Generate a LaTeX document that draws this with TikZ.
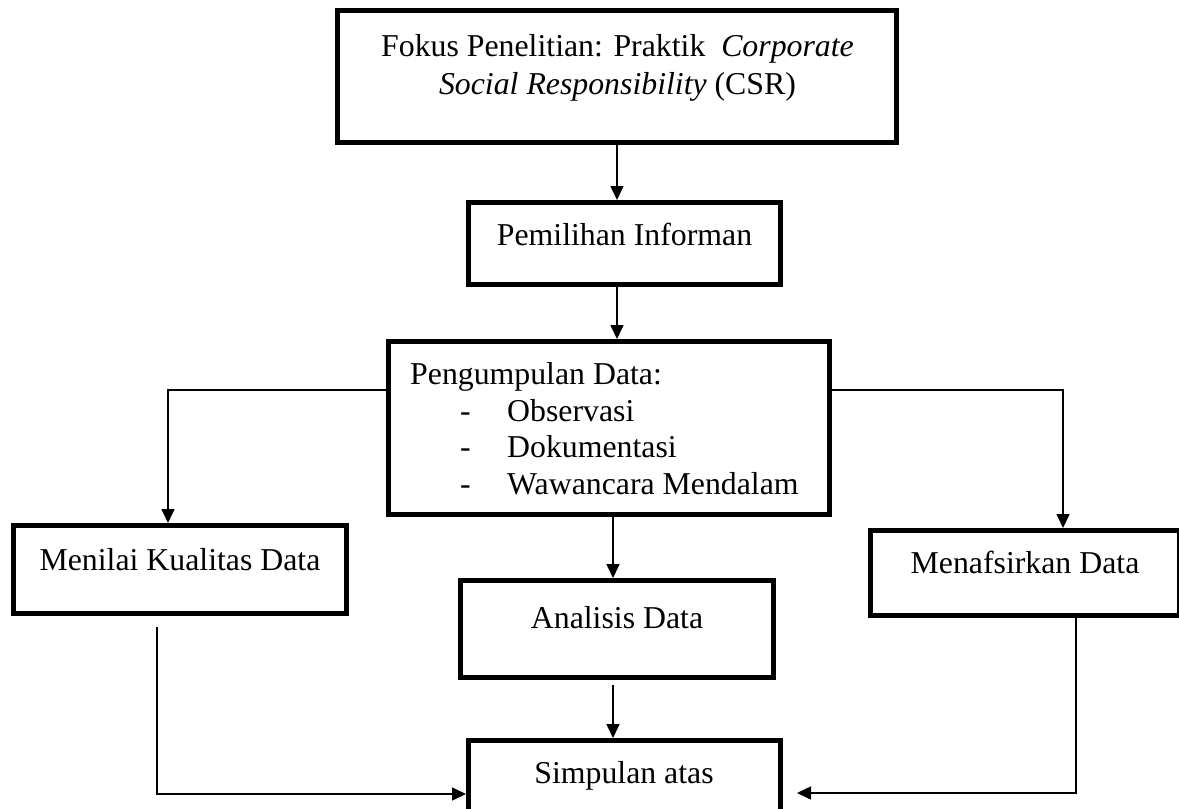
\documentclass[tikz,border=0pt]{standalone}
\usepackage{fontspec}
\setmainfont{Liberation Serif}
\usetikzlibrary{arrows.meta}
\tikzset{
  box/.style={draw, line width=5pt, rectangle, inner sep=0pt},
  txt/.style={inner sep=0pt, anchor=base, font=\fontsize{31.8pt}{36.6pt}\selectfont},
  txtl/.style={txt, anchor=base west},
  arr/.style={line width=1.6pt, -{Triangle[length=14pt,width=13pt]}},
  ln/.style={line width=1.6pt}
}
\begin{document}
\begin{tikzpicture}[x=1pt,y=1pt]
\useasboundingbox (0,0) rectangle (1179,-809);
\fill[white] (0,0) rectangle (1179,-809);
% boxes
\node[box, minimum width=559pt, minimum height=132pt] (b1) at (617,-76.5) {};
\node[box, minimum width=312pt, minimum height=82pt] (b2) at (624.5,-243.5) {};
\node[box, minimum width=441pt, minimum height=173pt] (b3) at (609,-428) {};
\node[box, minimum width=333pt, minimum height=88pt] (m) at (180,-569.5) {};
\node[box, minimum width=313pt, minimum height=97pt] (a) at (617,-629) {};
\node[box, minimum width=309pt, minimum height=85pt] (f) at (1025,-573) {};
\node[box, minimum width=312pt, minimum height=87pt] (s) at (624.5,-784) {};
% texts
\node[txt] (t1a) at (617.5,-56) {Fokus Penelitian: Praktik\ \ \textit{Corporate}};
\node[txt] (t1b) at (617.5,-94) {\textit{Social Responsibility} (CSR)};
\node[txt] (t2) at (624.5,-245) {Pemilihan Informan};
\node[txtl] (t3) at (410,-384) {Pengumpulan Data:};
\node[txtl] (d1) at (460,-421) {-};
\node[txtl] (d2) at (460,-457.5) {-};
\node[txtl] (d3) at (460,-494) {-};
\node[txtl] (i1) at (507,-421) {Observasi};
\node[txtl] (i2) at (507,-457.5) {Dokumentasi};
\node[txtl] (i3) at (507,-494) {Wawancara Mendalam};
\node[txt] (tm) at (180,-570) {Menilai Kualitas Data};
\node[txt] (ta) at (617,-628) {Analisis Data};
\node[txt] (tf) at (1025,-573) {Menafsirkan Data};
\node[txt] (ts) at (624,-783) {Simpulan atas};
% connectors
\draw[arr] (b1.south) -- (b1.south |- b2.north);
\draw[arr] (b1.south |- b2.south) -- (b1.south |- b3.north);
\draw[arr] ([yshift=38pt]b3.west) -| ([xshift=-12pt]m.north);
\draw[arr] ([yshift=38pt]b3.east) -| ([xshift=38pt]f.north);
\draw[arr] ([xshift=-4pt]a.north |- b3.south) -- ([xshift=-4pt]a.north);
\draw[arr] ([xshift=-4pt,yshift=-5pt]a.south) -- ([xshift=-4pt]a.south |- s.north);
\draw[arr] ([xshift=-23pt,yshift=-11pt]m.south) |- ([yshift=-10pt]s.west);
\draw[arr, shorten >=14pt] ([xshift=51pt]f.south) |- ([yshift=-9pt]s.east);
\end{tikzpicture}
\end{document}
